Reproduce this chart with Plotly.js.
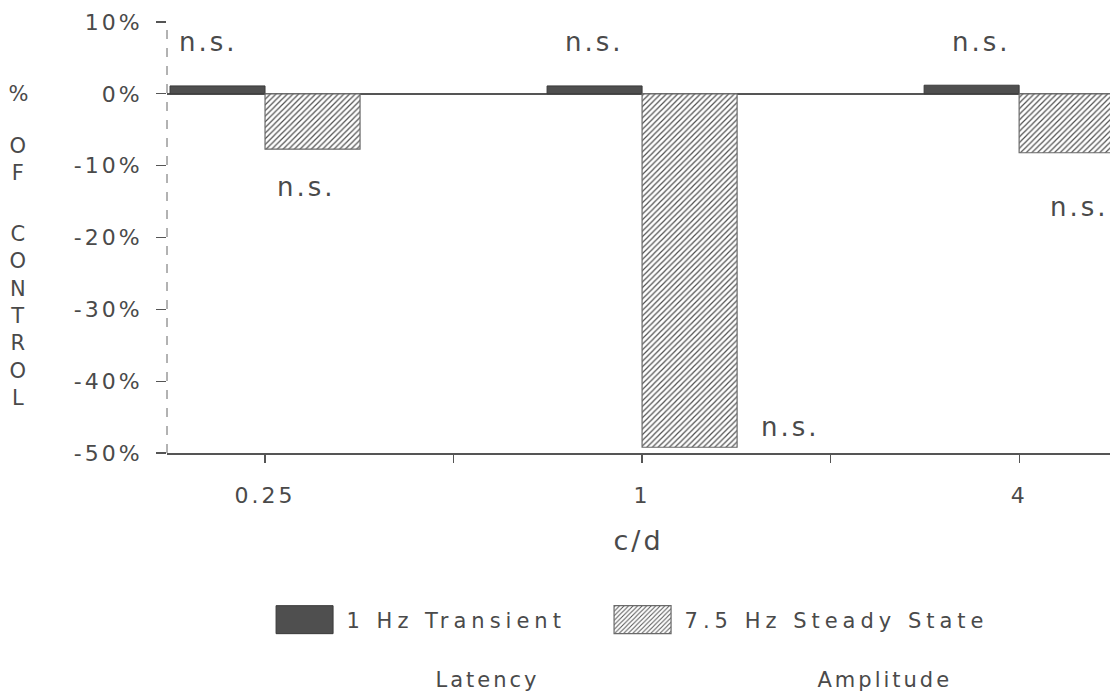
<!DOCTYPE html>
<html>
<head>
<meta charset="utf-8">
<script src="https://cdn.plot.ly/plotly-3.0.1.min.js"></script>
<style>
  html, body { margin: 0; padding: 0; background: #fff; }
  #chart { width: 1110px; height: 695px; }
  .main-svg text { letter-spacing: 3px; }
  .main-svg .legend text { letter-spacing: 5px; }
</style>
</head>
<body>
<div id="chart"></div>
<script>
// ---- data ----
const categories = ["0.25", "1", "4"];
const categoryPos = [0, 1, 2];
const transientValues = [1.1, 1.1, 1.2];       // 1 Hz Transient (Latency)
const steadyValues = [-7.7, -49.2, -8.2];      // 7.5 Hz Steady State (Amplitude)
const seriesNames = ["1 Hz Transient", "7.5 Hz Steady State"];
const yTickVals = [-50, -40, -30, -20, -10, 0, 10];
const yTickText = ["-50%", "-40%", "-30%", "-20%", "-10%", "0%", "10%"];
const nsLabelX = [-0.151, 0.873, 1.90, 0.109, 1.393, 2.159];
const nsLabelY = [7.2, 7.2, 7.2, -12.9, -46.4, -15.7];

const textColor = "#4a4a4a";
const fontFam = "DejaVu Sans, Liberation Sans, sans-serif";

const traces = [
  {
    type: "bar",
    name: seriesNames[0],
    x: categoryPos,
    y: transientValues,
    marker: { color: "#4f4f4f", line: { color: "#3a3a3a", width: 1 } },
    hoverinfo: "skip"
  },
  {
    type: "bar",
    name: seriesNames[1],
    x: categoryPos,
    y: steadyValues,
    marker: {
      color: "#ffffff",
      line: { color: "#6a6a6a", width: 1.2 },
      pattern: { shape: "/", fgcolor: "#505050", bgcolor: "#ffffff", size: 4, solidity: 0.3 }
    },
    hoverinfo: "skip"
  }
];

const annotations = nsLabelX.map((x, i) => ({
  x: x, y: nsLabelY[i], xref: "x", yref: "y",
  text: "n.s.", showarrow: false,
  font: { family: fontFam, size: 26, color: textColor },
  xanchor: "center", yanchor: "middle"
}));

// stacked y-axis title letters
const yTitleParts = [
  { text: "%", y: 0 },
  { text: "O<br>F", y: -9.1 },
  { text: "C<br>O<br>N<br>T<br>R<br>O<br>L", y: -30.9 }
];
yTitleParts.forEach(p => annotations.push({
  x: -0.156, xref: "paper", y: p.y, yref: "y",
  text: p.text, showarrow: false, xanchor: "center", yanchor: "middle",
  font: { family: fontFam, size: 21, color: textColor }
}));

// legend sub labels
const subLabels = [{ text: "Latency", xpx: 487 }, { text: "Amplitude", xpx: 885 }];
subLabels.forEach(s => annotations.push({
  x: (s.xpx - 167) / 943, xref: "paper", y: -0.527, yref: "paper",
  text: s.text, showarrow: false, xanchor: "center", yanchor: "middle",
  font: { family: fontFam, size: 21, color: textColor }
}));

const layout = {
  width: 1110, height: 695,
  margin: { l: 167, r: 0, t: 22, b: 242 },
  paper_bgcolor: "#ffffff",
  plot_bgcolor: "#ffffff",
  barmode: "group",
  bargap: 0.496,
  bargroupgap: 0,
  showlegend: true,
  legend: {
    orientation: "h",
    x: 0.148, xanchor: "left",
    y: -0.3875, yanchor: "middle",
    entrywidth: 293, entrywidthmode: "pixels",
    font: { family: fontFam, size: 21, color: textColor },
    bgcolor: "rgba(0,0,0,0)"
  },
  xaxis: {
    range: [-0.26, 2.241],
    tickmode: "array",
    tickvals: [0, 0.5, 1, 1.5, 2],
    ticktext: [categories[0], "", categories[1], "", categories[2]],
    ticks: "outside", ticklen: 8, tickwidth: 1.2, tickcolor: "#555",
    ticklabelstandoff: 14,
    showline: true, linecolor: "#555", linewidth: 1.5,
    showgrid: false, zeroline: false,
    tickfont: { family: fontFam, size: 22, color: textColor },
    title: { text: "c/d", font: { family: fontFam, size: 27, color: textColor }, standoff: 24 },
    fixedrange: true
  },
  yaxis: {
    range: [-50, 10],
    tickmode: "array",
    tickvals: yTickVals,
    ticktext: yTickText,
    ticks: "outside", ticklen: 10, tickwidth: 1.2, tickcolor: "#555",
    ticklabelstandoff: 9,
    showline: false,
    showgrid: false,
    zeroline: true, zerolinecolor: "#555", zerolinewidth: 1.5,
    tickfont: { family: fontFam, size: 22, color: textColor },
    fixedrange: true
  },
  shapes: [
    { type: "line", xref: "paper", x0: 0, x1: 0, yref: "paper", y0: 0, y1: 1,
      line: { color: "#666", width: 1, dash: "dash" } }
  ],
  annotations: annotations
};

Plotly.newPlot("chart", traces, layout, { displayModeBar: false, staticPlot: true }).then(gd => {
  // widen legend swatches to the large rectangles of the original figure
  gd.querySelectorAll(".legend .scrollbox, .legend").forEach(el => el.removeAttribute("clip-path"));
  gd.querySelectorAll(".legend .legendpoints path").forEach(p => {
    p.setAttribute("d", "M-50.5,14H6.5V-14H-50.5Z");
  });
});
</script>
</body>
</html>
